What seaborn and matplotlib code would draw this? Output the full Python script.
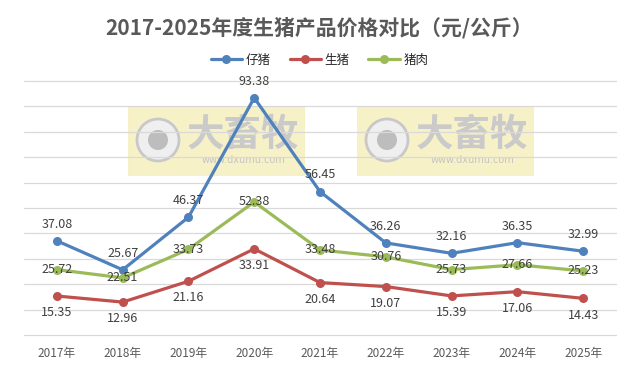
import seaborn as sns
import matplotlib.pyplot as plt
from matplotlib.patches import Rectangle, Circle
import pandas as pd

# data
years = ['2017年', '2018年', '2019年', '2020年', '2021年', '2022年', '2023年', '2024年', '2025年']
piglet = [37.08, 25.67, 46.37, 93.38, 56.45, 36.26, 32.16, 36.35, 32.99]   # 仔猪
hog = [15.35, 12.96, 21.16, 33.91, 20.64, 19.07, 15.39, 17.06, 14.43]      # 生猪
pork = [25.72, 22.51, 33.73, 52.38, 33.48, 30.76, 25.73, 27.66, 25.23]     # 猪肉
series_names = ['仔猪', '生猪', '猪肉']
colors = ['#4F81BD', '#C0504D', '#9BBB59']

sns.set_style('white')
plt.rcParams['font.family'] = ['Noto Sans CJK SC', 'DejaVu Sans']

df = pd.DataFrame({'year': years * 3,
                   'price': piglet + hog + pork,
                   'kind': [n for n in series_names for _ in years]})

fig = plt.figure(figsize=(6.39, 3.67), dpi=100)
ax = fig.add_axes([24 / 639, 1 - 335 / 367, 592 / 639, 254 / 367])

# watermark boxes (decoration from the source image)
for x0 in [128, 357]:
    bx = fig.add_axes([x0 / 639, 1 - 176 / 367, 177 / 639, 70 / 367], zorder=0.5)
    bx.set_xlim(0, 177)
    bx.set_ylim(0, 70)
    bx.axis('off')
    bx.add_patch(Rectangle((0, 0), 177, 70, color='#F6EFBE', alpha=0.85))
    bx.add_patch(Circle((30, 36), 21, fc='#EFEFEF', ec='#C8C8C8', lw=2))
    bx.add_patch(Circle((30, 36), 10, fc='#BDBDBD', ec='none'))
    bx.text(115, 42, '大畜牧', fontsize=27, fontweight='bold', color='#CACACA',
            ha='center', va='center')
    bx.text(115, 16, 'www.dxumu.com', fontsize=7, color='#C4C4C4',
            ha='center', va='center', family='DejaVu Sans')
ax.set_zorder(1)
ax.patch.set_alpha(0)

sns.lineplot(data=df, x='year', y='price', hue='kind', palette=colors,
             marker='o', markersize=6.5, markeredgewidth=0, linewidth=2.3,
             ax=ax, legend=True)

ax.set_xlim(-0.5, len(years) - 0.5)
ax.set_ylim(0, 100)
ax.set_yticks(range(0, 101, 10))
ax.set_yticklabels([])
ax.grid(axis='y', color='#D9D9D9', linewidth=0.9)
for gl in ax.get_ygridlines():
    gl.set_clip_on(False)
ax.set_axisbelow(True)
for s in ax.spines.values():
    s.set_visible(False)
ax.tick_params(axis='both', length=0)
ax.tick_params(axis='x', pad=9, labelsize=8.5, labelcolor='#595959')
ax.set_xlabel('')
ax.set_ylabel('')

# data labels
for i in range(len(years)):
    ax.annotate(f'{piglet[i]:.2f}', (i, piglet[i]), xytext=(0, 12), textcoords='offset points',
                ha='center', va='center', fontsize=9, color='#404040', zorder=5)
    ax.annotate(f'{hog[i]:.2f}', (i, hog[i]), xytext=(0, -12), textcoords='offset points',
                ha='center', va='center', fontsize=9, color='#404040', zorder=5)
    ax.annotate(f'{pork[i]:.2f}', (i, pork[i]), xytext=(0, 0), textcoords='offset points',
                ha='center', va='center', fontsize=9, color='#404040', zorder=5)

handles, labels = ax.get_legend_handles_labels()
ax.legend(handles, labels, loc='center', bbox_to_anchor=(0.5, 1 - 60 / 367),
          bbox_transform=fig.transFigure, ncol=3, frameon=False, fontsize=9,
          handlelength=2.5, columnspacing=1.5, handletextpad=0.3)

fig.text(0.5, 1 - 28 / 367, '2017-2025年度生猪产品价格对比（元/公斤）', ha='center', va='center',
         fontsize=15, fontweight='bold', color='#595959')

plt.savefig('out.png', dpi=100)
